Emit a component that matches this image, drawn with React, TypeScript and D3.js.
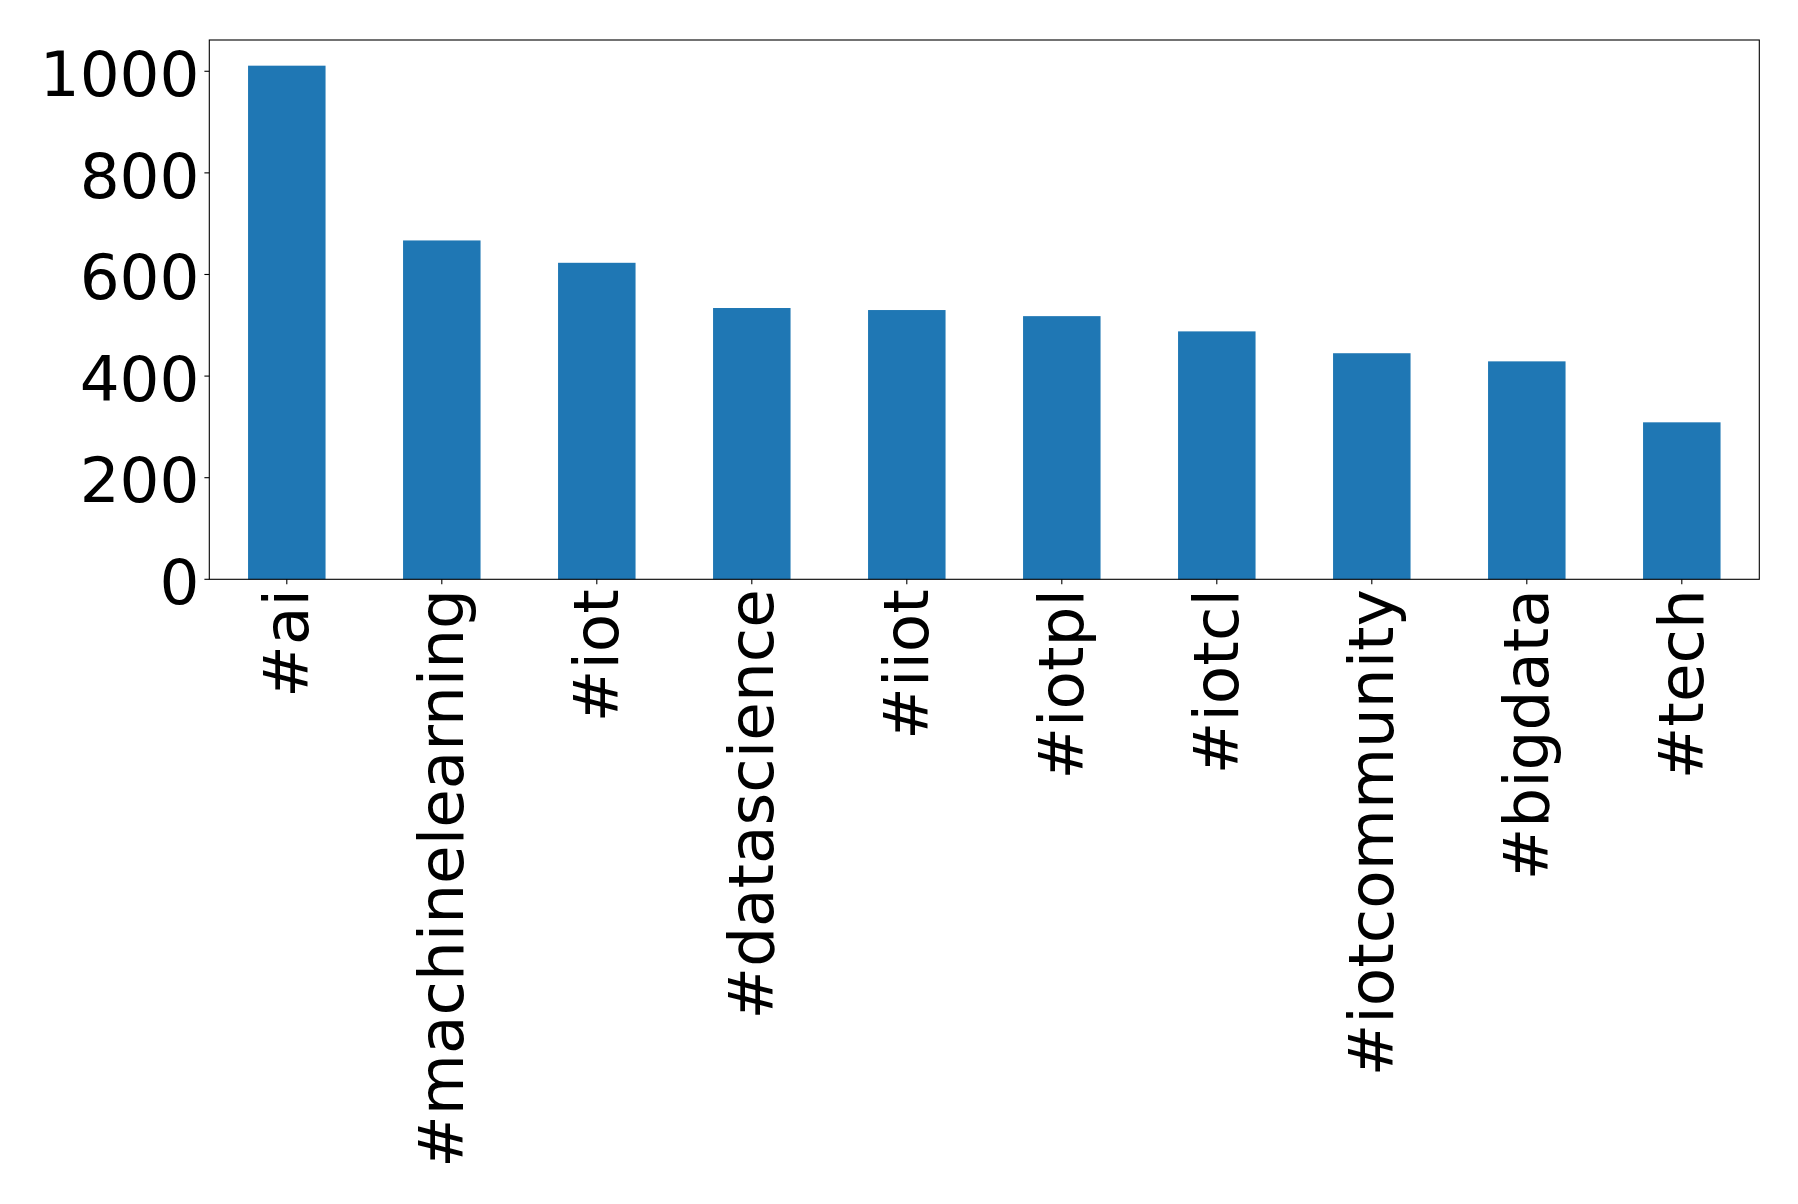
import React from "react";
import * as d3 from "d3";

const categories = [
  "#ai",
  "#machinelearning",
  "#iot",
  "#datascience",
  "#iiot",
  "#iotpl",
  "#iotcl",
  "#iotcommunity",
  "#bigdata",
  "#tech",
];
const counts = [1011, 667, 623, 534, 530, 518, 488, 445, 429, 309];
const yTicks = [0, 200, 400, 600, 800, 1000];

const W = 1798;
const H = 1204;
const left = 209.3;
const right = 1759.3;
const top = 40;
const bottom = 579.3;
const FONT = "'DejaVu Sans', sans-serif";
const FS = 62.8;
const BAR = "#1f77b4";

export default function App() {
  const x = d3.scaleLinear().domain([-0.5, categories.length - 0.5]).range([left, right]);
  const yMax = (d3.max(counts) as number) * 1.05;
  const y = d3.scaleLinear().domain([0, yMax]).range([bottom, top]);
  const tickLen = 4.9;
  const pad = 4.9;

  return (
    <svg
      width={W}
      height={H}
      viewBox={`0 0 ${W} ${H}`}
      style={{ position: "absolute", left: 0, top: 0, background: "#fff" }}
    >
      <rect x={0} y={0} width={W} height={H} fill="#fff" />
      {counts.map((v, i) => (
        <rect
          key={categories[i]}
          x={x(i - 0.25)}
          y={y(v)}
          width={x(i + 0.25) - x(i - 0.25)}
          height={y(0) - y(v)}
          fill={BAR}
        />
      ))}
      <rect
        x={left}
        y={top}
        width={right - left}
        height={bottom - top}
        fill="none"
        stroke="#000"
        strokeWidth={1.1}
      />
      {yTicks.map((t) => (
        <g key={t}>
          <line x1={left - tickLen} x2={left} y1={y(t)} y2={y(t)} stroke="#000" strokeWidth={1.1} />
          <text
            x={left - tickLen - pad}
            y={y(t) + 24.8}
            textAnchor="end"
            fontFamily={FONT}
            fontSize={FS}
            fill="#000"
          >
            {t}
          </text>
        </g>
      ))}
      {categories.map((c, i) => (
        <g key={c}>
          <line x1={x(i)} x2={x(i)} y1={bottom} y2={bottom + tickLen} stroke="#000" strokeWidth={1.1} />
          <text
            transform={`translate(${x(i)},${bottom + tickLen + pad}) rotate(-90)`}
            x={0}
            y={21.4}
            textAnchor="end"
            fontFamily={FONT}
            fontSize={FS}
            fill="#000"
          >
            {c}
          </text>
        </g>
      ))}
    </svg>
  );
}
